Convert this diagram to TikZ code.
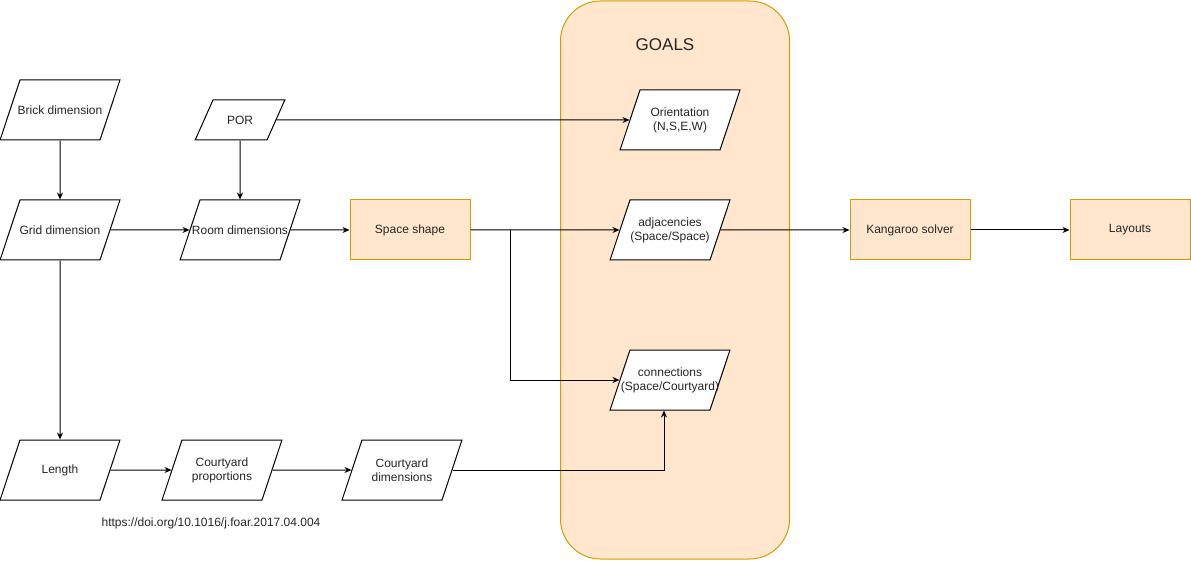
\documentclass[tikz,border=0pt]{standalone}
\usepackage{fontspec}
\setmainfont{Liberation Sans}
\usetikzlibrary{shapes.geometric, arrows.meta, positioning, calc}
\definecolor{goalFill}{HTML}{FFE6CC}
\definecolor{goalLine}{HTML}{D79B00}

\begin{document}
\begin{tikzpicture}[x=1pt, y=-1pt, line width=1pt,
    every node/.style={font=\fontsize{12}{14}\selectfont, text=black!85},
    parashape/.style 2 args={draw=black, fill=white, trapezium,
      trapezium stretches body=true, inner ysep=12pt,
      execute at begin node={\begin{minipage}[c][#1][c]{#2}\centering},
      execute at end node={\end{minipage}}},
    para/.style={parashape={36pt}{100pt}, inner xsep=-10pt,
      trapezium left angle=71.6, trapezium right angle=108.4},
    smallpara/.style={parashape={16pt}{60pt}, inner xsep=-3pt,
      trapezium left angle=66, trapezium right angle=114},
    orangebox/.style={draw=goalLine, fill=goalFill, minimum width=120pt,
      minimum height=60pt, inner sep=0pt},
    arr/.style={-{Stealth[length=7pt, width=6pt]}}]
  \useasboundingbox (0,0) rectangle (1191,561);

  % goals container
  \node (goals) [draw=goalLine, fill=goalFill, rounded corners=40pt,
    minimum width=229pt, minimum height=558pt] at (675,280) {};
  \node (goalsTitle) [font=\fontsize{17}{20}\selectfont] at (665,45) {GOALS};

  % inputs
  \node (brick) [para] at (60,110) {Brick dimension};
  \node (grid) [para] at (60,230) {Grid dimension};
  \node (length) [para] at (60,470) {Length};
  \node (por) [smallpara] at (240,120) {POR};
  \node (room) [para] at (240,230) {Room dimensions};
  \node (cprop) [para] at (222,470) {Courtyard\\proportions};
  \node (cdim) [para] at (402,470) {Courtyard\\dimensions};
  \node (space) [orangebox] at (410,230) {Space shape};

  % goals
  \node (orient) [para] at (680,120) {Orientation\\(N,S,E,W)};
  \node (adj) [para] at (670,230) {adjacencies\\(Space/Space)};
  \node (conn) [para] at (670,380) {connections\\(Space/Courtyard)};

  % solver
  \node (solver) [orangebox] at (910,230) {Kangaroo solver};
  \node (layouts) [orangebox] at (1130,230) {Layouts};

  \node (doi) at (211,523) {https://doi.org/10.1016/j.foar.2017.04.004};

  % connectors
  \draw[arr] (brick) -- (grid);
  \draw[arr] (grid) -- (length);
  \draw[arr] (grid) -- (room);
  \draw[arr] (por) -- (room);
  \draw[arr] (por) -- (orient);
  \draw[arr] (room) -- (space);
  \draw[arr] (space) -- (adj);
  \coordinate (split) at (510,230);
  \draw[arr] (split) |- (conn);
  \draw[arr] (length) -- (cprop);
  \draw[arr] (cprop) -- (cdim);
  \draw[arr] (cdim.east) -| ([xshift=-6pt]conn.south);
  \draw[arr] (adj) -- (solver);
  \draw[arr] (solver) -- (layouts);
\end{tikzpicture}
\end{document}
